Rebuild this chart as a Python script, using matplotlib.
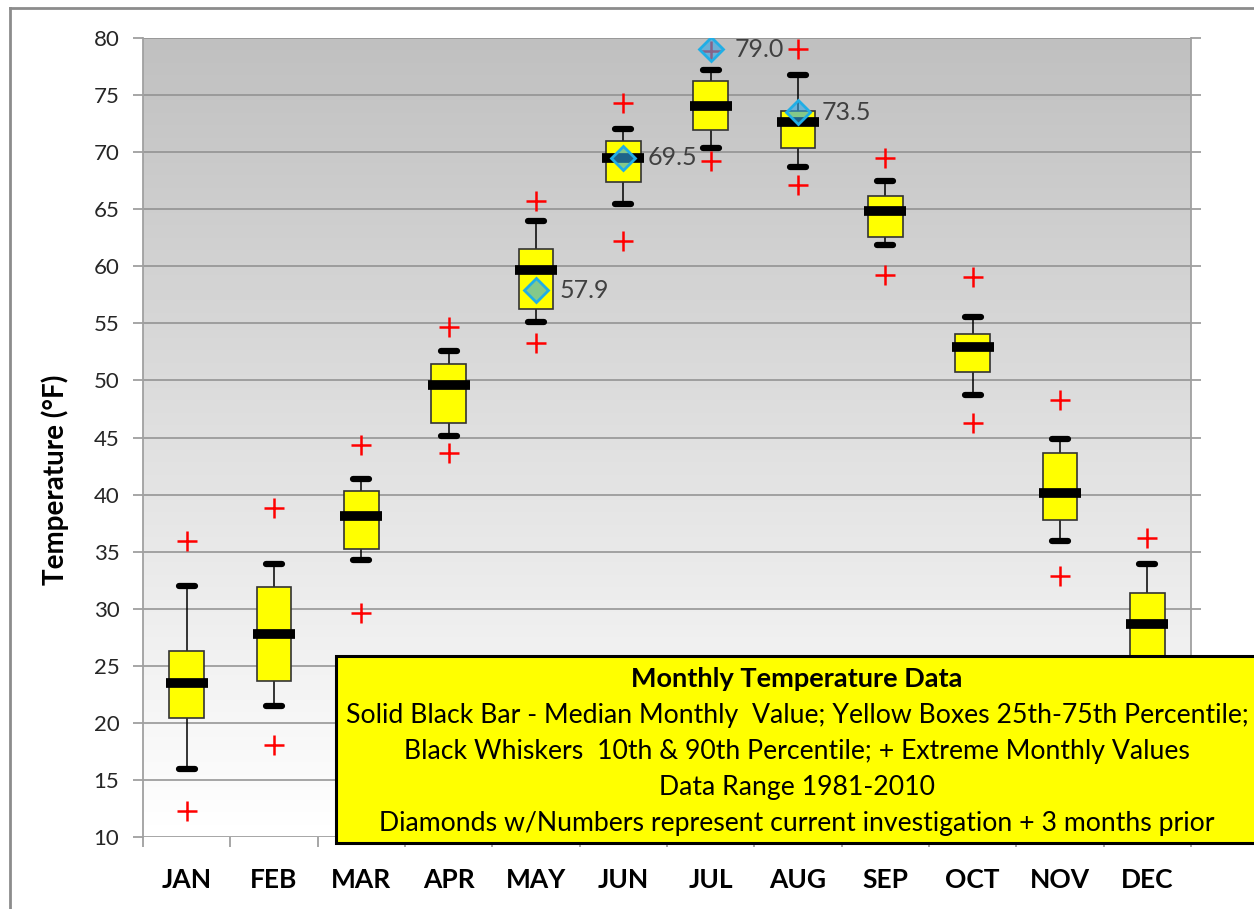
import numpy as np
import matplotlib
matplotlib.use('Agg')
import matplotlib.pyplot as plt
from matplotlib.lines import Line2D
from matplotlib.patches import Rectangle

plt.rcParams['font.family'] = ['Lato', 'DejaVu Sans']

months = ['JAN', 'FEB', 'MAR', 'APR', 'MAY', 'JUN', 'JUL', 'AUG', 'SEP', 'OCT', 'NOV', 'DEC']
ext_hi = [35.9, 38.8, 44.3, 54.7, 65.7, 74.3, 78.9, 79.0, 69.5, 59.1, 48.3, 36.2]
p90 = [32.0, 33.9, 41.4, 52.6, 64.0, 72.0, 77.2, 76.8, 67.5, 55.6, 44.9, 33.9]
q75 = [26.3, 31.9, 40.3, 51.4, 61.5, 71.0, 76.2, 73.6, 66.2, 54.1, 43.6, 31.4]
median = [23.5, 27.8, 38.1, 49.6, 59.7, 69.5, 74.0, 72.6, 64.8, 52.9, 40.1, 28.7]
q25 = [20.4, 23.7, 35.2, 46.3, 56.3, 67.4, 71.9, 70.4, 62.6, 50.7, 37.8, 25.0]
p10 = [16.0, 21.5, 34.3, 45.1, 55.1, 65.5, 70.4, 68.7, 61.9, 48.7, 35.9, 21.0]
ext_lo = [12.3, 18.1, 29.6, 43.6, 53.3, 62.2, 69.2, 67.1, 59.2, 46.3, 32.9, 17.0]

# current investigation + 3 months prior
cur_months = ['MAY', 'JUN', 'JUL', 'AUG']
cur_vals = [57.9, 69.5, 79.0, 73.5]

legend_lines = [
    'Solid Black Bar - Median Monthly  Value; Yellow Boxes 25th-75th Percentile;',
    'Black Whiskers  10th & 90th Percentile; + Extreme Monthly Values',
    'Data Range 1981-2010',
    'Diamonds w/Numbers represent current investigation + 3 months prior',
]

W, H = 1254, 909
fig = plt.figure(figsize=(W / 100, H / 100), dpi=100)
ax = fig.add_axes([143 / W, 1 - 837 / H, (1191 - 143) / W, (837 - 38) / H])

x = np.arange(len(months))
ax.set_xlim(-0.5, len(months) - 0.5)
ax.set_ylim(10, 80)

# gradient background, dark at the top
grad = np.linspace(0.75, 1.0, 256).reshape(-1, 1)
ax.imshow(grad, extent=(-0.5, len(months) - 0.5, 10, 80), aspect='auto',
          cmap='gray', vmin=0, vmax=1, zorder=0)

yt = np.arange(10, 81, 5)
ax.set_yticks(yt)
ax.yaxis.grid(True, color='#8e8e8e', linewidth=1.1, zorder=1)
ax.set_axisbelow(True)

# whiskers
ax.vlines(x, p10, q25, color='black', linewidth=1.1, zorder=2)
ax.vlines(x, q75, p90, color='black', linewidth=1.1, zorder=2)
ax.hlines(p10, x - 0.09, x + 0.09, color='black', linewidth=4.5, capstyle='round', zorder=3)
ax.hlines(p90, x - 0.09, x + 0.09, color='black', linewidth=4.5, capstyle='round', zorder=3)

# boxes
ax.bar(x, np.array(q75) - np.array(q25), bottom=q25, width=0.40, color='#ffff00',
       edgecolor='#333333', linewidth=1.2, zorder=3)
ax.hlines(median, x - 0.24, x + 0.24, color='black', linewidth=7, zorder=4)

# extremes
ax.scatter(x, ext_hi, marker='+', s=210, color='#ff0000', linewidths=1.8, zorder=4)
ax.scatter(x, ext_lo, marker='+', s=210, color='#ff0000', linewidths=1.8, zorder=4)

# diamonds
cx = [months.index(m) for m in cur_months]
ax.plot(cx, cur_vals, linestyle='none', marker='D', markersize=12,
        markerfacecolor=(0.2, 0.65, 0.9, 0.6), markeredgecolor='#20aee6',
        markeredgewidth=2, zorder=5)
for xi, v in zip(cx, cur_vals):
    ax.annotate(f'{v:.1f}', (xi, v), xytext=(24, 0), textcoords='offset pixels',
                ha='left', va='center', fontsize=18, color='#404040', zorder=6)

# axes styling
ax.spines['top'].set_visible(False)
ax.spines['bottom'].set_visible(False)
for s in ['left', 'right']:
    ax.spines[s].set_color('#a0a0a0')
    ax.spines[s].set_linewidth(1.3)
ax.tick_params(axis='y', which='major', left=True, right=True, labelleft=True, labelright=True,
               length=7, width=1.1, color='#8e8e8e', labelsize=16, labelcolor='#262626', pad=10)

# right-hand labels below 30 sit behind the note box
for t in ax.yaxis.get_major_ticks():
    if t.get_loc() < 30:
        t.label2.set_visible(False)

ax.set_xticks(x)
ax.set_xticklabels(months, fontsize=19, fontweight='bold')
ax.set_xticks(np.arange(-0.5, len(months)), minor=True)
ax.tick_params(axis='x', which='major', length=0, pad=22)
ax.tick_params(axis='x', which='minor', length=7, width=1.1, color='#8e8e8e')

fig.text(55 / W, 1 - 480 / H, 'Temperature (°F)', rotation=90, ha='center', va='center',
         fontsize=20, fontweight='bold')

# outer chart border
fig.add_artist(Line2D([10 / W, 10 / W], [0, 1 - 8 / H], color='#8c8c8c', linewidth=2))
fig.add_artist(Line2D([10 / W, 1], [1 - 8 / H, 1 - 8 / H], color='#8c8c8c', linewidth=2))

# legend box
fig.add_artist(Rectangle((336 / W, 1 - 843 / H), (1270 - 336) / W, (843 - 656) / H,
                         facecolor='#ffff00', edgecolor='black', linewidth=2.2,
                         transform=fig.transFigure, zorder=10))
tx = 797 / W
fig.text(tx, 1 - 679 / H, 'Monthly Temperature Data', ha='center', va='center',
         fontsize=19.5, fontweight='bold', zorder=11)
for yy, line in zip([715, 751, 787, 823], legend_lines):
    fig.text(tx, 1 - yy / H, line, ha='center', va='center', fontsize=19.2, zorder=11)

fig.savefig('out.png', dpi=100)
